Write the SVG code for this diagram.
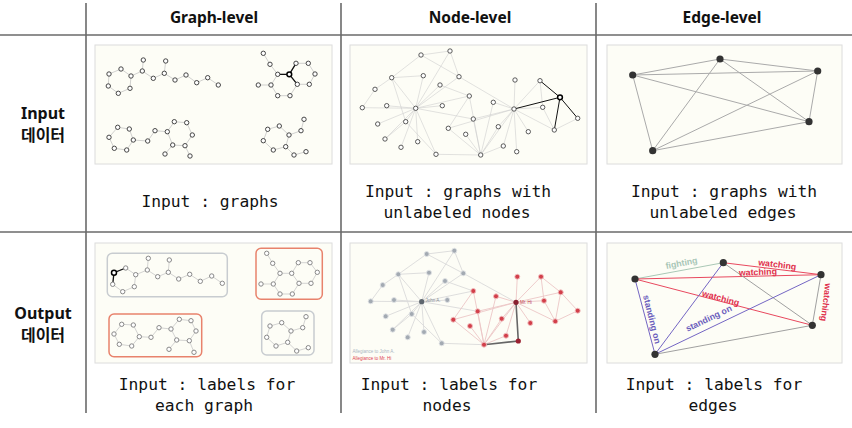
<svg xmlns="http://www.w3.org/2000/svg" width="852" height="428" viewBox="0 0 852 428">
<style>
.bg{fill:#ffffff}
.grid{stroke:#6a6a6a;stroke-width:1.6;fill:none}
.panel{fill:#fdfdf6;stroke:#dcdcdc;stroke-width:1}
.hdr{font-family:"Noto Sans","Open Sans",sans-serif;font-weight:bold;font-size:15.5px;text-anchor:middle;fill:#111}
.row{font-family:"Noto Sans","Noto Sans CJK KR",sans-serif;font-weight:bold;font-size:16px;text-anchor:middle;fill:#111}
.mono{font-family:"DejaVu Sans Mono","Liberation Mono",monospace;font-size:16.3px;text-anchor:middle;fill:#111}
.ge{stroke:#bdbdbd;stroke-width:0.7;fill:none}
.gb{stroke:#111;stroke-width:1.3;fill:none}
.gn{fill:#fff;stroke:#333;stroke-width:0.9}
.gnb{fill:#fff;stroke:#000;stroke-width:1.5}
.on{fill:#fff;stroke:#888;stroke-width:1}
.oe{stroke:#c8c8c8;stroke-width:0.8;fill:none}
.boxg{fill:none;stroke:#c8ccd0;stroke-width:1.5}
.boxr{fill:none;stroke:#e8826c;stroke-width:1.5}
.ne{stroke:#cfcfcf;stroke-width:0.6;fill:none}
.neb{stroke:#111;stroke-width:1;fill:none}
.nn{fill:#fff;stroke:#333;stroke-width:0.8}
.oge{stroke:#dadada;stroke-width:0.9;fill:none}
.ore{stroke:#ecc6c6;stroke-width:0.9;fill:none}
.ogn{fill:#a3aab2;stroke:#e2e4e6;stroke-width:0.9}
.orn{fill:#d23f4a;stroke:#f2c2c2;stroke-width:0.9}
.ee{stroke:#aaaaaa;stroke-width:1;fill:none}
.en{fill:#333}
.lbl{font-family:"Liberation Sans",Arial,sans-serif;font-size:8.8px;font-weight:bold;text-anchor:middle}
.tiny{font-family:"Liberation Sans",Arial,sans-serif;font-size:4.5px}
</style>
<rect class="bg" x="0" y="0" width="852" height="428"/>

<g id="table-lines">
<line class="grid" x1="0" y1="35" x2="852" y2="35"/>
<line class="grid" x1="0" y1="232" x2="852" y2="232"/>
<line class="grid" x1="86" y1="3" x2="86" y2="413"/>
<line class="grid" x1="341" y1="3" x2="341" y2="413"/>
<line class="grid" x1="596" y1="3" x2="596" y2="413"/>
</g>

<g id="headers">
<text class="hdr" x="214" y="23">Graph-level</text>
<text class="hdr" x="470" y="23">Node-level</text>
<text class="hdr" x="722" y="23">Edge-level</text>
</g>

<g id="row-labels">
<text class="row" x="43" y="119">Input</text>
<text class="row" x="43" y="141">데이터</text>
<text class="row" x="43" y="319">Output</text>
<text class="row" x="43" y="341">데이터</text>
</g>

<!-- Graph-level input -->
<g id="graph-input">
<rect class="panel" x="95" y="45" width="237" height="119"/>
<g id="graph-input-edges">
<polygon class="ge" points="109,74 121,69 131,76 130,88.3 118.3,93.3 108.3,86"/>
<polyline class="ge" points="131,76 142.3,71 153.3,78.3 164.3,73.3 175,80 186,75 196.7,82.7 207.7,77.7 218.3,85"/>
<path class="ge" d="M142.3 71L143.3 60M164.3 73.3L165.7 61"/>
<polygon class="ge" points="277.7,74.3 289.3,74.3 297.3,84.3 290,95.7 277.7,95.7 271,85"/>
<polyline class="ge" points="289.3,74.3 296,63.3 308.3,63.3 315,74 309.3,84.3 297.3,84.3"/>
<path class="ge" d="M263.3 53.3L270 64.3L277.7 74.3M271 85L258.3 85"/>
<path class="gb" d="M277.7 74.3L289.3 74.3L296 63.3M289.3 74.3L297.3 84.3"/>
<polygon class="ge" points="117.7,127.3 129.3,129 133.3,140 126.7,150 114.3,148.3 109,137.3"/>
<polyline class="ge" points="133.3,140 147.7,141 155,130.7 167.3,131.7"/>
<polygon class="ge" points="167.3,131.7 174.3,121.7 186.7,122.7 192.3,135 185,145.7 172.7,145"/>
<path class="ge" d="M172.7 145L165 154M185 145.7L190 156"/>
<polygon class="ge" points="267.7,129.3 279.3,126 289,135 285.7,146.7 273.3,150 263.3,140.7"/>
<path class="ge" d="M289 135L301 130.7L304 119.3M285.7 146.7L294 155L306 151.7"/>
</g>
<g id="graph-input-nodes">
<circle class="gn" cx="109" cy="74" r="2.2"/><circle class="gn" cx="121" cy="69" r="2.2"/><circle class="gn" cx="131" cy="76" r="2.2"/><circle class="gn" cx="130" cy="88.3" r="2.2"/><circle class="gn" cx="118.3" cy="93.3" r="2.2"/><circle class="gn" cx="108.3" cy="86" r="2.2"/>
<circle class="gn" cx="142.3" cy="71" r="2.2"/><circle class="gn" cx="143.3" cy="60" r="2.2"/><circle class="gn" cx="153.3" cy="78.3" r="2.2"/><circle class="gn" cx="164.3" cy="73.3" r="2.2"/><circle class="gn" cx="165.7" cy="61" r="2.2"/><circle class="gn" cx="175" cy="80" r="2.2"/><circle class="gn" cx="186" cy="75" r="2.2"/><circle class="gn" cx="196.7" cy="82.7" r="2.2"/><circle class="gn" cx="207.7" cy="77.7" r="2.2"/><circle class="gn" cx="218.3" cy="85" r="2.2"/>
<circle class="gn" cx="263.3" cy="53.3" r="2.2"/><circle class="gn" cx="270" cy="64.3" r="2.2"/><circle class="gn" cx="277.7" cy="74.3" r="2.2"/><circle class="gnb" cx="289.3" cy="74.3" r="2.4"/><circle class="gn" cx="296" cy="63.3" r="2.2"/><circle class="gn" cx="308.3" cy="63.3" r="2.2"/><circle class="gn" cx="315" cy="74" r="2.2"/><circle class="gn" cx="309.3" cy="84.3" r="2.2"/><circle class="gn" cx="297.3" cy="84.3" r="2.2"/><circle class="gn" cx="290" cy="95.7" r="2.2"/><circle class="gn" cx="277.7" cy="95.7" r="2.2"/><circle class="gn" cx="271" cy="85" r="2.2"/><circle class="gn" cx="258.3" cy="85" r="2.2"/>
<circle class="gn" cx="117.7" cy="127.3" r="2.2"/><circle class="gn" cx="129.3" cy="129" r="2.2"/><circle class="gn" cx="133.3" cy="140" r="2.2"/><circle class="gn" cx="126.7" cy="150" r="2.2"/><circle class="gn" cx="114.3" cy="148.3" r="2.2"/><circle class="gn" cx="109" cy="137.3" r="2.2"/><circle class="gn" cx="147.7" cy="141" r="2.2"/><circle class="gn" cx="155" cy="130.7" r="2.2"/><circle class="gn" cx="167.3" cy="131.7" r="2.2"/><circle class="gn" cx="174.3" cy="121.7" r="2.2"/><circle class="gn" cx="186.7" cy="122.7" r="2.2"/><circle class="gn" cx="192.3" cy="135" r="2.2"/><circle class="gn" cx="185" cy="145.7" r="2.2"/><circle class="gn" cx="172.7" cy="145" r="2.2"/><circle class="gn" cx="165" cy="154" r="2.2"/><circle class="gn" cx="190" cy="156" r="2.2"/>
<circle class="gn" cx="267.7" cy="129.3" r="2.2"/><circle class="gn" cx="279.3" cy="126" r="2.2"/><circle class="gn" cx="289" cy="135" r="2.2"/><circle class="gn" cx="285.7" cy="146.7" r="2.2"/><circle class="gn" cx="273.3" cy="150" r="2.2"/><circle class="gn" cx="263.3" cy="140.7" r="2.2"/><circle class="gn" cx="301" cy="130.7" r="2.2"/><circle class="gn" cx="304" cy="119.3" r="2.2"/><circle class="gn" cx="294" cy="155" r="2.2"/><circle class="gn" cx="306" cy="151.7" r="2.2"/>
</g>
<text class="mono" x="210" y="207">Input : graphs</text>
</g>

<!-- Graph-level output -->
<g id="graph-output">
<rect class="panel" x="95" y="243" width="237" height="120"/>
<rect class="boxg" x="107.3" y="253.3" width="120" height="43.4" rx="5"/>
<rect class="boxr" x="256" y="248.3" width="66.3" height="51" rx="5"/>
<rect class="boxr" x="109" y="314" width="92.7" height="42.7" rx="5"/>
<rect class="boxg" x="261.7" y="311" width="52.3" height="44" rx="5"/>
<g id="graph-output-edges">
<polygon class="oe" points="114,272.7 125.7,268 135.7,274.7 134.3,286.7 122.7,291.7 112.7,284.3"/>
<polyline class="oe" points="135.7,274.7 147.3,270 157.7,276.7 168.3,272.3 178.7,279 189.7,274.3 200.3,281.3 211.7,276 222.3,283.3"/>
<path class="oe" d="M147.3 270L148.3 258.3M168.3 272.3L169.3 260"/>
<path class="gb" d="M125.7 268L114 272.7L112.7 284.3"/>
<polygon class="oe" points="280,273.3 291.7,273.3 299,283.3 292.3,294 280,294 273.3,284"/>
<polyline class="oe" points="291.7,273.3 298.3,262.7 310,262.7 317.3,272.3 311,283.3 299,283.3"/>
<path class="oe" d="M266.7 253.3L272.7 263.3L280 273.3M273.3 284L261 284"/>
<polygon class="oe" points="121.7,324.3 133.3,325 139.3,336.7 131.7,346 119.3,344.3 114,334"/>
<polyline class="oe" points="139.3,336.7 151,337.3 159,327.7 171,329"/>
<polygon class="oe" points="171,329 179.3,319.3 191,320.7 196,331 189.3,340.7 176.7,340"/>
<path class="oe" d="M176.7 340L169 349.3M189.3 340.7L194 352.3"/>
<polygon class="oe" points="270,326 281.7,322.7 291,331 287.7,342.3 276,346 266.7,337.3"/>
<path class="oe" d="M291 331L302.7 327.7L306 316.7M287.7 342.3L296.7 351L308.3 347.7"/>
</g>
<g id="graph-output-nodes">
<circle class="gnb" cx="114" cy="272.7" r="2.5"/><circle class="on" cx="125.7" cy="268" r="2.2"/><circle class="on" cx="135.7" cy="274.7" r="2.2"/><circle class="on" cx="134.3" cy="286.7" r="2.2"/><circle class="on" cx="122.7" cy="291.7" r="2.2"/><circle class="on" cx="112.7" cy="284.3" r="2.2"/><circle class="on" cx="147.3" cy="270" r="2.2"/><circle class="on" cx="148.3" cy="258.3" r="2.2"/><circle class="on" cx="157.7" cy="276.7" r="2.2"/><circle class="on" cx="168.3" cy="272.3" r="2.2"/><circle class="on" cx="169.3" cy="260" r="2.2"/><circle class="on" cx="178.7" cy="279" r="2.2"/><circle class="on" cx="189.7" cy="274.3" r="2.2"/><circle class="on" cx="200.3" cy="281.3" r="2.2"/><circle class="on" cx="211.7" cy="276" r="2.2"/><circle class="on" cx="222.3" cy="283.3" r="2.2"/>
<circle class="on" cx="266.7" cy="253.3" r="2.2"/><circle class="on" cx="272.7" cy="263.3" r="2.2"/><circle class="on" cx="280" cy="273.3" r="2.2"/><circle class="on" cx="291.7" cy="273.3" r="2.2"/><circle class="on" cx="298.3" cy="262.7" r="2.2"/><circle class="on" cx="310" cy="262.7" r="2.2"/><circle class="on" cx="317.3" cy="272.3" r="2.2"/><circle class="on" cx="311" cy="283.3" r="2.2"/><circle class="on" cx="299" cy="283.3" r="2.2"/><circle class="on" cx="292.3" cy="294" r="2.2"/><circle class="on" cx="280" cy="294" r="2.2"/><circle class="on" cx="273.3" cy="284" r="2.2"/><circle class="on" cx="261" cy="284" r="2.2"/>
<circle class="on" cx="121.7" cy="324.3" r="2.2"/><circle class="on" cx="133.3" cy="325" r="2.2"/><circle class="on" cx="139.3" cy="336.7" r="2.2"/><circle class="on" cx="131.7" cy="346" r="2.2"/><circle class="on" cx="119.3" cy="344.3" r="2.2"/><circle class="on" cx="114" cy="334" r="2.2"/><circle class="on" cx="151" cy="337.3" r="2.2"/><circle class="on" cx="159" cy="327.7" r="2.2"/><circle class="on" cx="171" cy="329" r="2.2"/><circle class="on" cx="179.3" cy="319.3" r="2.2"/><circle class="on" cx="191" cy="320.7" r="2.2"/><circle class="on" cx="196" cy="331" r="2.2"/><circle class="on" cx="189.3" cy="340.7" r="2.2"/><circle class="on" cx="176.7" cy="340" r="2.2"/><circle class="on" cx="169" cy="349.3" r="2.2"/><circle class="on" cx="194" cy="352.3" r="2.2"/>
<circle class="on" cx="270" cy="326" r="2.2"/><circle class="on" cx="281.7" cy="322.7" r="2.2"/><circle class="on" cx="291" cy="331" r="2.2"/><circle class="on" cx="287.7" cy="342.3" r="2.2"/><circle class="on" cx="276" cy="346" r="2.2"/><circle class="on" cx="266.7" cy="337.3" r="2.2"/><circle class="on" cx="302.7" cy="327.7" r="2.2"/><circle class="on" cx="306" cy="316.7" r="2.2"/><circle class="on" cx="296.7" cy="351" r="2.2"/><circle class="on" cx="308.3" cy="347.7" r="2.2"/>
</g>
<text class="mono" x="207" y="390">Input : labels for</text>
<text class="mono" x="204" y="411">each graph</text>
</g>

<!-- Node-level input -->
<g id="node-input">
<rect class="panel" x="350" y="45" width="237" height="119"/>
<g id="node-input-edges">
<path class="ne" d="M421 55L450 51M421 55L391.7 77.7M421 55L459 76.7M450 51L459 76.7M450 51L415.7 108.3M391.7 77.7L423.3 75.7M391.7 77.7L415.7 108.3M391.7 77.7L375 89.3M391.7 77.7L405.7 121.7M423.3 75.7L415.7 108.3M459 76.7L415.7 108.3M459 76.7L514 109M440 85L415.7 108.3M440 85L469.3 96M375 89.3L362.3 107.7M362.3 107.7L415.7 108.3M386.7 105.7L415.7 108.3M415.7 108.3L442.3 105.7M415.7 108.3L405.7 121.7M415.7 108.3L377.7 124M415.7 108.3L385 139M415.7 108.3L417.7 141.7M415.7 108.3L401 147.3M415.7 108.3L436 154.3M415.7 108.3L469.3 96M415.7 108.3L473.3 119M405.7 121.7L436 154.3M405.7 121.7L385 139M469.3 96L448.3 128.3M469.3 96L480.7 155M493.3 102.3L514 109M493.3 102.3L480.7 155M473.3 119L514 109M473.3 119L480.7 155M448.3 128.3L480.7 155M448.3 128.3L514 109M465.7 134.3L480.7 155M498.3 126.7L514 109M498.3 126.7L480.7 155M480.7 155L436 154.3M480.7 155L503.3 146M480.7 155L514 109M503.3 146L514 109M516.7 151.7L514 109M514 109L515 80M514 109L540 80.7M514 109L542.7 107.3M514 109L528.3 131.7M514 109L554.3 130M540 80.7L542.7 107.3M542.7 107.3L554.3 130M577.7 118.3L554.3 130"/>
<path class="neb" d="M514 109L560 97.3M540 80.7L560 97.3M560 97.3L577.7 118.3M560 97.3L554.3 130"/>
</g>
<g id="node-input-nodes">
<circle class="nn" cx="421" cy="55" r="2.2"/><circle class="nn" cx="450" cy="51" r="2.2"/><circle class="nn" cx="391.7" cy="77.7" r="2.2"/><circle class="nn" cx="423.3" cy="75.7" r="2.2"/><circle class="nn" cx="459" cy="76.7" r="2.2"/><circle class="nn" cx="440" cy="85" r="2.2"/><circle class="nn" cx="375" cy="89.3" r="2.2"/><circle class="nn" cx="362.3" cy="107.7" r="2.2"/><circle class="nn" cx="386.7" cy="105.7" r="2.2"/><circle class="nn" cx="415.7" cy="108.3" r="2.2"/><circle class="nn" cx="442.3" cy="105.7" r="2.2"/><circle class="nn" cx="405.7" cy="121.7" r="2.2"/><circle class="nn" cx="377.7" cy="124" r="2.2"/><circle class="nn" cx="385" cy="139" r="2.2"/><circle class="nn" cx="417.7" cy="141.7" r="2.2"/><circle class="nn" cx="401" cy="147.3" r="2.2"/><circle class="nn" cx="436" cy="154.3" r="2.2"/>
<circle class="nn" cx="469.3" cy="96" r="2.2"/><circle class="nn" cx="493.3" cy="102.3" r="2.2"/><circle class="nn" cx="473.3" cy="119" r="2.2"/><circle class="nn" cx="448.3" cy="128.3" r="2.2"/><circle class="nn" cx="465.7" cy="134.3" r="2.2"/><circle class="nn" cx="498.3" cy="126.7" r="2.2"/><circle class="nn" cx="480.7" cy="155" r="2.2"/><circle class="nn" cx="503.3" cy="146" r="2.2"/><circle class="nn" cx="516.7" cy="151.7" r="2.2"/><circle class="nn" cx="514" cy="109" r="2.2"/><circle class="nn" cx="515" cy="80" r="2.2"/><circle class="nn" cx="540" cy="80.7" r="2.2"/><circle class="gnb" cx="560" cy="97.3" r="2.4"/><circle class="nn" cx="542.7" cy="107.3" r="2.2"/><circle class="nn" cx="577.7" cy="118.3" r="2.2"/><circle class="nn" cx="554.3" cy="130" r="2.2"/><circle class="nn" cx="528.3" cy="131.7" r="2.2"/>
</g>
<text class="mono" x="458" y="197">Input : graphs with</text>
<text class="mono" x="457" y="218">unlabeled nodes</text>
</g>

<!-- Node-level output -->
<g id="node-output">
<rect class="panel" x="350" y="243" width="237" height="120"/>
<g id="node-output-edges">
<path class="oge" d="M426.7 254L454.3 250.7M426.7 254L398.3 274.3M426.7 254L463.3 273.3M454.3 250.7L463.3 273.3M454.3 250.7L421.7 301.7M398.3 274.3L429 272.7M398.3 274.3L421.7 301.7M398.3 274.3L382.7 285M398.3 274.3L411.7 314M429 272.7L421.7 301.7M463.3 273.3L421.7 301.7M463.3 273.3L516 302.3M445 281L421.7 301.7M445 281L473.3 291M382.7 285L370.7 301.3M370.7 301.3L421.7 301.7M394 300L421.7 301.7M421.7 301.7L447.3 300M421.7 301.7L411.7 314M421.7 301.7L385.7 316.3M421.7 301.7L392.7 329.7M421.7 301.7L424 332M421.7 301.7L407.7 337.3M421.7 301.7L441.7 343.3M421.7 301.7L473.3 291M421.7 301.7L477.7 311.3M411.7 314L441.7 343.3M411.7 314L392.7 329.7M484 344.7L441.7 343.3"/>
<path class="ore" d="M473.3 291L453.3 319.7M473.3 291L484 344.7M496 296.3L516 302.3M496 296.3L484 344.7M477.7 311.3L516 302.3M477.7 311.3L484 344.7M453.3 319.7L484 344.7M453.3 319.7L516 302.3M470 326L484 344.7M501.7 318.7L516 302.3M501.7 318.7L484 344.7M484 344.7L506 335.7M484 344.7L516 302.3M506 335.7L516 302.3M516 302.3L517.3 276.7M516 302.3L541 276.7M516 302.3L560.7 292.3M516 302.3L544 300.7M516 302.3L530.3 323M516 302.3L555.3 321.3M541 276.7L560.7 292.3M541 276.7L544 300.7M560.7 292.3L577.7 310.7M560.7 292.3L555.3 321.3M544 300.7L555.3 321.3M577.7 310.7L555.3 321.3"/>
<path d="M516 302.3L518.3 341L484 344.7" fill="none" stroke="#666" stroke-width="1.6"/>
</g>
<g id="node-output-nodes">
<circle class="ogn" cx="426.7" cy="254" r="2.5"/><circle class="ogn" cx="454.3" cy="250.7" r="2.5"/><circle class="ogn" cx="398.3" cy="274.3" r="2.5"/><circle class="ogn" cx="429" cy="272.7" r="2.5"/><circle class="ogn" cx="463.3" cy="273.3" r="2.5"/><circle class="ogn" cx="445" cy="281" r="2.5"/><circle class="ogn" cx="382.7" cy="285" r="2.5"/><circle class="ogn" cx="370.7" cy="301.3" r="2.5"/><circle class="ogn" cx="394" cy="300" r="2.5"/><circle cx="421.7" cy="301.7" r="2.6" fill="#5e666e"/><circle class="ogn" cx="447.3" cy="300" r="2.5"/><circle class="ogn" cx="411.7" cy="314" r="2.5"/><circle class="ogn" cx="385.7" cy="316.3" r="2.5"/><circle class="ogn" cx="392.7" cy="329.7" r="2.5"/><circle class="ogn" cx="424" cy="332" r="2.5"/><circle class="ogn" cx="407.7" cy="337.3" r="2.5"/><circle class="ogn" cx="441.7" cy="343.3" r="2.5"/>
<circle class="orn" cx="473.3" cy="291" r="2.5"/><circle class="orn" cx="496" cy="296.3" r="2.5"/><circle class="orn" cx="477.7" cy="311.3" r="2.5"/><circle class="orn" cx="453.3" cy="319.7" r="2.5"/><circle class="orn" cx="470" cy="326" r="2.5"/><circle class="orn" cx="501.7" cy="318.7" r="2.5"/><circle class="orn" cx="484" cy="344.7" r="2.5"/><circle class="orn" cx="506" cy="335.7" r="2.5"/><circle cx="518.3" cy="341" r="2.6" fill="#9a2030"/><circle cx="516" cy="302.3" r="2.6" fill="#8a2030"/><circle class="orn" cx="517.3" cy="276.7" r="2.5"/><circle class="orn" cx="541" cy="276.7" r="2.5"/><circle class="orn" cx="560.7" cy="292.3" r="2.5"/><circle class="orn" cx="544" cy="300.7" r="2.5"/><circle class="orn" cx="577.7" cy="310.7" r="2.5"/><circle class="orn" cx="555.3" cy="321.3" r="2.5"/><circle class="orn" cx="530.3" cy="323" r="2.5"/>
</g>
<text class="tiny" x="425.5" y="302" fill="#8a9098">John A.</text>
<text class="tiny" x="520" y="303.5" fill="#c04050">Mr. Hi</text>
<text class="tiny" x="352.5" y="352.5" fill="#aab6c2">Allegiance to John A.</text>
<text class="tiny" x="352.5" y="360" fill="#e04050">Allegiance to Mr. Hi</text>
<text class="mono" x="449" y="390">Input : labels for</text>
<text class="mono" x="447" y="411">nodes</text>
</g>

<!-- Edge-level input -->
<g id="edge-input">
<rect class="panel" x="607" y="45" width="235" height="119"/>
<g id="edge-input-edges">
<path class="ee" d="M632.7 75L720 59L817.7 71L809 121.7L652.7 150.7Z M632.7 75L817.7 71M632.7 75L809 121.7M720 59L809 121.7M720 59L652.7 150.7M817.7 71L652.7 150.7"/>
</g>
<g id="edge-input-nodes">
<circle class="en" cx="632.7" cy="75" r="3.6"/><circle class="en" cx="720" cy="59" r="3.6"/><circle class="en" cx="817.7" cy="71" r="3.6"/><circle class="en" cx="809" cy="121.7" r="3.6"/><circle class="en" cx="652.7" cy="150.7" r="3.6"/>
</g>
<text class="mono" x="724" y="197">Input : graphs with</text>
<text class="mono" x="723" y="218">unlabeled edges</text>
</g>

<!-- Edge-level output -->
<g id="edge-output">
<rect class="panel" x="607" y="243" width="235" height="120"/>
<g id="edge-output-edges">
<line x1="635" y1="279" x2="723.3" y2="262.7" stroke="#aac8b6" stroke-width="1"/>
<path d="M723.3 262.7L821 274.7M635 279L821 274.7M635 279L812.3 325.3" fill="none" stroke="#e8485e" stroke-width="1"/>
<path d="M821 274.7L812.3 325.3M723.3 262.7L812.3 325.3M655 354.3L812.3 325.3" fill="none" stroke="#a0a0a0" stroke-width="1"/>
<path d="M635 279L655 354.3M723.3 262.7L655 354.3M821 274.7L655 354.3" fill="none" stroke="#7466c4" stroke-width="1"/>
</g>
<g id="edge-output-nodes">
<circle class="en" cx="635" cy="279" r="3.6"/><circle class="en" cx="723.3" cy="262.7" r="3.6"/><circle class="en" cx="821" cy="274.7" r="3.6"/><circle class="en" cx="812.3" cy="325.3" r="3.6"/><circle class="en" cx="655" cy="354.3" r="3.6"/>
</g>
<g id="edge-output-labels">
<text class="lbl" fill="#a8c6b6" transform="translate(682 266) rotate(-10.5)">fighting</text>
<text class="lbl" fill="#e0304c" transform="translate(777 267.5) rotate(7)">watching</text>
<text class="lbl" fill="#e0304c" transform="translate(758 275) rotate(-2)">watching</text>
<text class="lbl" fill="#e0304c" transform="translate(720 301) rotate(15)">watching</text>
<text class="lbl" fill="#e0304c" transform="translate(823 302) rotate(97)">watching</text>
<text class="lbl" fill="#6a5cbc" transform="translate(649 320) rotate(76)">standing on</text>
<text class="lbl" fill="#6a5cbc" transform="translate(710 321) rotate(-25.6)">standing on</text>
</g>
<text class="mono" x="714" y="390">Input : labels for</text>
<text class="mono" x="713" y="411">edges</text>
</g>
</svg>
